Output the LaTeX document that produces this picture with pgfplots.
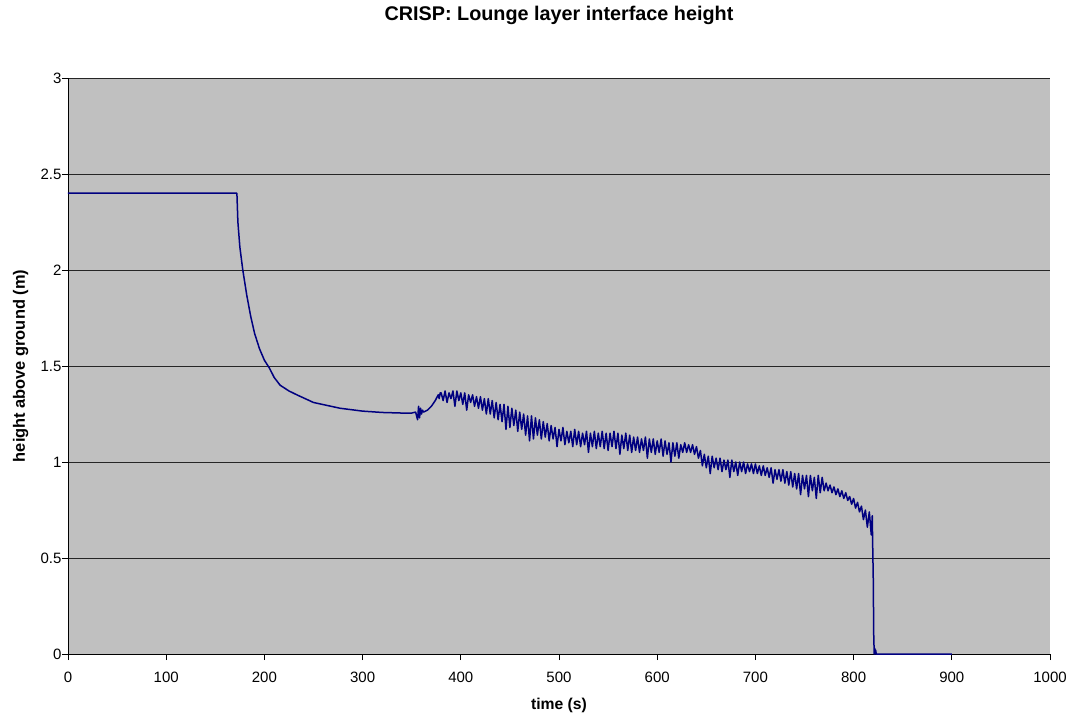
\documentclass[border=0pt]{standalone}
\usepackage{fontspec}
\setmainfont{Liberation Sans}
\usepackage{pgfplots}
\pgfplotsset{compat=1.18}

\definecolor{plotbg}{HTML}{C0C0C0}
\definecolor{navyline}{HTML}{000080}

\begin{document}
\begin{tikzpicture}
\useasboundingbox (-68pt,-62pt) rectangle (1004pt,654pt);
\begin{axis}[
    at={(0,0)}, anchor=south west,
    scale only axis,
    width=982pt, height=576pt,
    xmin=0, xmax=1000, ymin=0, ymax=3,
    xtick={0,100,...,1000},
    ytick={0,0.5,1,1.5,2,2.5,3},
    axis lines=left,
    axis line style={-, black, line width=0.9pt},
    tick align=outside,
    major tick length=6pt,
    tick style={black, line width=0.9pt},
    ymajorgrids,
    grid style={black!85, line width=0.8pt},
    axis background/.style={fill=plotbg},
    font=\fontsize{15}{17}\selectfont,
    /pgf/number format/assume math mode=true,
    /pgf/number format/1000 sep={},
    xticklabel style={yshift=-8pt},
    yticklabel style={xshift=3pt},
    title={\textbf{CRISP: Lounge layer interface height}},
    title style={at={(0.5,1)}, anchor=base, yshift=51pt, font=\fontsize{19.8}{22}\selectfont},
    xlabel={\textbf{time (s)}},
    ylabel={\textbf{height above ground (m)}},
    xlabel style={at={(0.5,0)}, anchor=base, yshift=-55pt, font=\fontsize{15.7}{18}\selectfont},
    ylabel style={at={(0,0.5)}, anchor=base, yshift=43pt, font=\fontsize{16.4}{18}\selectfont},
]
\addplot[navyline, line width=1.5pt, line join=round] coordinates {
(0,2.4)(100,2.4)(171.5,2.4)(172,2.40)(173,2.25)(175,2.12)(178,2.0)(182,1.87)(186,1.76)(190,1.67)
(195,1.59)(200,1.53)(205,1.49)(210,1.44)(216,1.40)(225,1.37)(233,1.35)(250,1.31)(277,1.28)
(300,1.265)(320,1.258)(340,1.255)(350,1.255)(354,1.26)(356,1.22)(357,1.29)(358,1.23)(359,1.28)
(360,1.25)(361,1.27)(362,1.26)(366,1.27)(370,1.29)(374,1.32)(377,1.35)(378,1.33)(379,1.36)
(380,1.36)(382,1.32)(384,1.37)(386,1.31)(388,1.36)(390,1.33)(392,1.37)(394,1.29)(396,1.37)(398,1.32)
(400,1.36)(402,1.30)(404,1.36)(406,1.27)(408,1.35)(410,1.31)(412,1.35)(414,1.29)(416,1.34)(418,1.28)
(420,1.34)(422,1.27)(424,1.33)(426,1.25)(428,1.33)(430,1.25)(432,1.32)(434,1.23)(436,1.31)(438,1.22)
(440,1.30)(442,1.21)(444,1.30)(446,1.17)(448,1.29)(450,1.18)(452,1.28)(454,1.19)(456,1.27)(458,1.16)
(460,1.26)(462,1.17)(464,1.25)(466,1.14)(468,1.24)(470,1.11)(472,1.24)(474,1.12)(476,1.23)(478,1.14)
(480,1.22)(482,1.12)(484,1.21)(486,1.13)(488,1.20)(490,1.11)(492,1.19)(494,1.12)(496,1.18)(498,1.08)
(500,1.17)(502,1.11)(504,1.18)(506,1.09)(508,1.16)(510,1.10)(512,1.16)(514,1.08)(516,1.17)(518,1.09)
(520,1.16)(522,1.08)(524,1.15)(526,1.09)(528,1.16)(530,1.05)(532,1.15)(534,1.08)(536,1.16)(538,1.07)
(540,1.15)(542,1.08)(544,1.16)(546,1.07)(548,1.15)(550,1.06)(552,1.15)(554,1.08)(556,1.16)(558,1.07)
(560,1.15)(562,1.04)(564,1.14)(566,1.07)(568,1.15)(570,1.06)(572,1.14)(574,1.05)(576,1.13)(578,1.06)
(580,1.13)(582,1.05)(584,1.12)(586,1.06)(588,1.13)(590,1.02)(592,1.12)(594,1.05)(596,1.12)(598,1.04)
(600,1.11)(602,1.05)(604,1.12)(606,1.03)(608,1.11)(610,1.04)(612,1.10)(614,1.00)(616,1.10)(618,1.03)
(620,1.10)(622,1.02)(624,1.09)(626,1.05)(628,1.10)(630,1.05)(632,1.09)(634,1.05)(636,1.09)(638,1.04)
(640,1.08)(642,1.02)(644,1.06)(646,0.98)(648,1.04)(650,0.97)(652,1.03)(654,0.94)(656,1.03)(658,0.97)
(660,1.02)(662,0.96)(664,1.02)(666,0.95)(668,1.01)(670,0.96)(672,1.01)(674,0.92)(676,1.01)(678,0.95)
(680,1.00)(682,0.93)(684,1.00)(686,0.95)(688,1.00)(690,0.94)(692,0.99)(694,0.95)(696,0.99)(698,0.94)
(700,0.99)(702,0.94)(704,0.98)(706,0.93)(708,0.98)(710,0.93)(712,0.97)(714,0.92)(716,0.97)(718,0.89)
(720,0.96)(722,0.91)(724,0.96)(726,0.90)(728,0.96)(730,0.89)(732,0.95)(734,0.88)(736,0.95)(738,0.87)
(740,0.94)(742,0.86)(744,0.94)(746,0.83)(748,0.93)(750,0.86)(752,0.93)(754,0.82)(756,0.93)(758,0.85)
(760,0.92)(762,0.81)(764,0.93)(766,0.84)(768,0.92)(770,0.85)(772,0.89)(774,0.85)(776,0.88)(778,0.84)
(780,0.87)(782,0.83)(784,0.86)(786,0.82)(788,0.85)(790,0.81)(792,0.84)(794,0.80)(796,0.82)(798,0.78)
(800,0.81)(802,0.76)(804,0.79)(806,0.74)(808,0.77)(810,0.70)(812,0.75)(814,0.66)(816,0.74)(818,0.62)
(819,0.72)(819.5,0.55)(820,0.40)(820.5,0.10)(821,0)(821.5,0.03)(822,0)(822.5,0.02)(823,0)(900,0)
};
\end{axis}
\end{tikzpicture}
\end{document}
